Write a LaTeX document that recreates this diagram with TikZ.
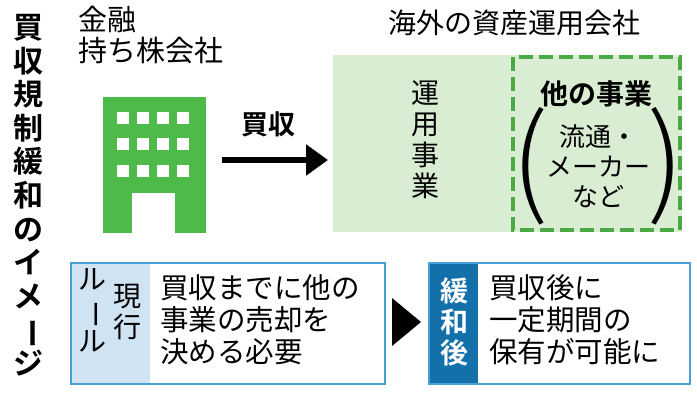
\documentclass[tikz,border=0pt]{standalone}
\usepackage{fontspec}
\setmainfont{Noto Sans CJK JP}
\newfontfamily\boldjp{Noto Sans CJK JP Bold}
\newfontfamily\lightjp{Noto Sans CJK JP Light}
\usepackage{graphicx}
\usetikzlibrary{arrows.meta}
\definecolor{bldgreen}{HTML}{4DBA4A}
\definecolor{panelgreen}{HTML}{D9EDD3}
\definecolor{dashgreen}{HTML}{4CA845}
\definecolor{lightblue}{HTML}{CFE3F2}
\definecolor{rulblue}{HTML}{4A9FD6}
\definecolor{darkblue}{HTML}{1470A8}
\newcommand{\vbar}{\rotatebox[origin=c]{-90}{ー}}
\tikzset{
  vtext/.style={align=center,inner sep=0pt,font=\fontsize{28}{31}\selectfont},
  btext/.style={align=left,anchor=north west,inner sep=0pt,font=\fontsize{28.5}{32}\selectfont},
  window/.style={fill=white,draw=none}
}
\begin{document}
\begin{tikzpicture}[x=1pt,y=-1pt]
  \useasboundingbox[fill=white] (0,0) rectangle (697,400);
  % title
  \node[vtext,anchor=north,font=\fontsize{30}{33.6}\boldjp] (title) at (28,14)
    {買\\収\\規\\制\\緩\\和\\の\\イ\\メ\\\vbar\\ジ};
  % holding company
  \node[anchor=north west,align=left,inner sep=0pt,font=\fontsize{29}{31}\selectfont] (hold) at (78,6) {金融\\持ち株会社};
  \fill[bldgreen] (103,97) rectangle (206,233);
  \fill[white] (132,193) rectangle (175,233);
  \foreach \x in {117,137,157,177}
    \foreach \y in {112,138,165}
      \fill[window] (\x,\y) rectangle ++(12,12);
  % acquisition arrow
  \coordinate (a1) at (222,160);
  \coordinate (a2) at (328,160);
  \draw[line width=6pt,-{Triangle[length=22pt,width=30pt]}] (a1) -- (a2);
  \node[font=\fontsize{27}{29}\boldjp] (buy) at (268,124) {買収};
  % overseas company
  \node[font=\fontsize{28}{30}\selectfont] (ovs) at (514,23) {海外の資産運用会社};
  \fill[panelgreen] (333,55) rectangle (682,232);
  \node[vtext,anchor=north] (unyo) at (425,80) {運\\用\\事\\業};
  \draw[dashgreen,line width=4pt,dash pattern=on 14pt off 6pt] (513,57) rectangle (680,230);
  \node[font=\fontsize{28}{30}\boldjp] (other) at (596,94) {他の事業};
  \node[align=center,inner sep=0pt,font=\fontsize{26}{30}\selectfont] (otherlist) at (598,166) {流通・\\メーカー\\など};
  \node[font=\lightjp] at (530,166) {\resizebox{!}{95pt}{(}};
  \node[font=\lightjp] at (666,166) {\resizebox{!}{95pt}{)}};
  % current rule
  \fill[lightblue] (72,264) rectangle (150,383);
  \draw[rulblue,line width=2pt] (71,263) rectangle (385,384);
  \node[vtext,anchor=north] (rule) at (92,268) {ル\\\vbar\\ル};
  \node[vtext,anchor=north] (now) at (127,284) {現\\行};
  \node[btext] (nowtxt) at (160,274) {買収までに他の\\事業の売却を\\決める必要};
  % triangle
  \fill (392,298) -- (421,322) -- (392,346) -- cycle;
  % after easing
  \fill[darkblue] (430,264) rectangle (478,383);
  \draw[rulblue,line width=2pt] (429,263) rectangle (690,384);
  \node[vtext,anchor=north,text=white,font=\fontsize{28}{31}\boldjp] (after) at (454,278) {緩\\和\\後};
  \node[btext] (aftertxt) at (489,274) {買収後に\\一定期間の\\保有が可能に};
\end{tikzpicture}
\end{document}
